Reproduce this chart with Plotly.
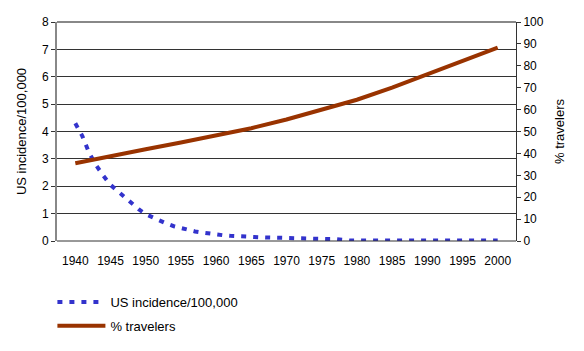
import plotly.graph_objects as go

years = list(range(1940, 2001))
incidence = [4.3, 3.83, 3.2, 2.75, 2.38, 2.05, 1.83, 1.6, 1.37, 1.16,
             0.98, 0.85, 0.73, 0.63, 0.54, 0.47, 0.40, 0.35, 0.31, 0.27,
             0.23, 0.21, 0.19, 0.17, 0.16, 0.15, 0.14, 0.13, 0.12, 0.11,
             0.10, 0.09, 0.09, 0.08, 0.08, 0.08, 0.07, 0.07, 0.03, 0.02,
             0.02, 0.02, 0.02, 0.02, 0.02, 0.02, 0.02, 0.02, 0.02, 0.02,
             0.02, 0.02, 0.02, 0.02, 0.02, 0.02, 0.02, 0.02, 0.02, 0.02,
             0.02]
trav_years = [1940, 1945, 1950, 1955, 1960, 1965, 1970, 1975, 1980, 1985, 1990, 1995, 2000]
travelers = [35.5, 38.5, 41.9, 45.0, 48.3, 51.5, 55.5, 60.0, 64.5, 70.0, 76.0, 82.0, 88.3]
tick_years = list(range(1940, 2001, 5))

FONT = "Liberation Sans, Arial, sans-serif"
fig = go.Figure()
fig.add_trace(go.Scatter(x=years, y=incidence, mode="lines", name="US incidence/100,000",
                         legendgroup="a",
                         line=dict(color="#3333CC", width=4, dash="5px,7px")))
fig.add_trace(go.Scatter(x=trav_years, y=travelers, mode="lines", name="% travelers", yaxis="y2",
                         legendgroup="b",
                         line=dict(color="#993300", width=4)))

fig.update_layout(
    template="none",
    width=584, height=351,
    margin=dict(l=57, r=68, t=22, b=110, autoexpand=False),
    paper_bgcolor="white", plot_bgcolor="white",
    font=dict(family=FONT, size=12, color="black"),
    showlegend=True,
    legend=dict(x=-0.01, y=-0.21, xanchor="left", yanchor="top", orientation="v",
                font=dict(size=13), traceorder="grouped", tracegroupgap=4, itemwidth=48,
                bgcolor="rgba(0,0,0,0)"),
    xaxis=dict(range=[1937.4, 2002.6], tickvals=tick_years, ticks="outside", ticklen=9,
               tickcolor="rgba(0,0,0,0)", showgrid=False,
               zeroline=False, showline=False, tickfont=dict(size=12)),
    yaxis=dict(range=[0, 8], dtick=1, showgrid=True, gridcolor="#333333", gridwidth=1,
               zeroline=False, showline=True, linecolor="#888888", linewidth=2,
               ticks="outside", ticklen=4, tickcolor="#333333",
               title=dict(text="US incidence/100,000", standoff=12, font=dict(size=13)),
               tickfont=dict(size=12)),
    yaxis2=dict(range=[0, 100], dtick=10, overlaying="y", side="right", showgrid=False,
                zeroline=False, showline=True, linecolor="#333333", linewidth=1,
                ticks="outside", ticklen=4, tickcolor="#333333",
                title=dict(text="% travelers", standoff=12, font=dict(size=13)),
                tickfont=dict(size=12)),
)
fig.add_shape(type="line", xref="paper", yref="paper", x0=0, x1=1, y0=1, y1=1,
              line=dict(color="#888888", width=2))
fig.add_shape(type="line", xref="paper", yref="paper", x0=0, x1=1, y0=0, y1=0,
              line=dict(color="#333333", width=1))
fig.write_html("out.html")
